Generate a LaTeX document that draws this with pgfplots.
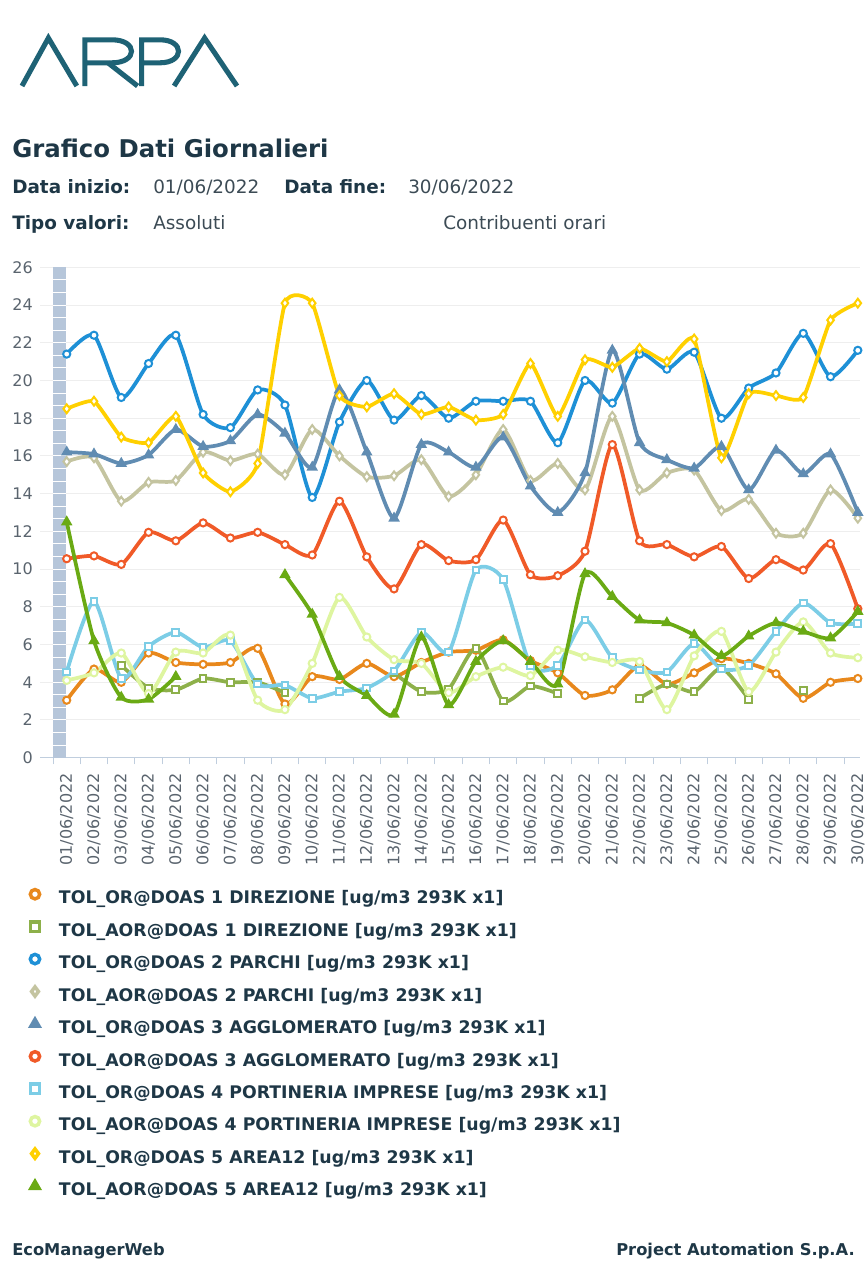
\documentclass[border=0pt]{standalone}
\usepackage{pgfplots}
\pgfplotsset{compat=1.18}
\usepackage{fontspec}
\setmainfont{DejaVu Sans}
\definecolor{c1}{RGB}{232,136,28}
\definecolor{c2}{RGB}{141,176,74}
\definecolor{c3}{RGB}{30,144,214}
\definecolor{c4}{RGB}{196,196,160}
\definecolor{c5}{RGB}{96,140,178}
\definecolor{c6}{RGB}{240,90,40}
\definecolor{c7}{RGB}{124,205,230}
\definecolor{c8}{RGB}{222,245,160}
\definecolor{c9}{RGB}{255,208,0}
\definecolor{c10}{RGB}{106,170,20}
\definecolor{titlecol}{RGB}{30,55,70}
\definecolor{valcol}{RGB}{60,75,85}
\definecolor{tickcol}{RGB}{90,100,110}
\definecolor{axiscol}{RGB}{192,206,222}
\definecolor{gridcol}{RGB}{238,238,238}
\definecolor{barcol}{RGB}{182,198,218}
\definecolor{logocol}{RGB}{30,98,117}
\pgfplotsset{
  base/.style 2 args={color=#1, line width=2.8pt, smooth, tension=0.4,
    mark options={solid, line width=1.5pt, draw=#1, fill=#2}},
}
\begin{document}
\begin{tikzpicture}
\useasboundingbox (0,0) rectangle (651pt,-945.75pt);
% logo
\begin{scope}[x=0.75pt, y=-0.75pt, line width=3.8pt, draw=logocol, line join=miter, line cap=butt]
\draw (22,86) -- (48.4,38) -- (76.8,86);
\draw (84.9,86) -- (84.9,39.8) -- (112,39.8) .. controls (138,39.8) and (138,62.8) .. (112,62.8) -- (86.7,62.8);
\draw (108,62.8) -- (137.6,86);
\draw (141.7,86) -- (141.7,39.8) -- (160,39.8) .. controls (184.7,39.8) and (184.7,62.8) .. (160,62.8) -- (143.5,62.8);
\draw (174.1,86) -- (204.6,38) -- (237,86);
\end{scope}
% header
\tikzset{hb/.style={anchor=base west, inner sep=0pt, font=\bfseries\fontsize{13.8}{16}\selectfont, text=titlecol},
         hr/.style={anchor=base west, inner sep=0pt, font=\fontsize{13.8}{16}\selectfont, text=valcol}}
\node[anchor=base west, inner sep=0pt, font=\bfseries\fontsize{18.3}{22}\selectfont, text=titlecol] at (9pt,-117.75pt) {Grafico Dati Giornalieri};
\node[hb] at (9pt,-144.75pt) {Data inizio:};
\node[hr] at (114.75pt,-144.75pt) {01/06/2022};
\node[hb] at (213pt,-144.75pt) {Data fine:};
\node[hr] at (306pt,-144.75pt) {30/06/2022};
\node[hb] at (9pt,-171.75pt) {Tipo valori:};
\node[hr] at (114.75pt,-171.75pt) {Assoluti};
\node[hr] at (332.25pt,-171.75pt) {Contribuenti orari};
% footer
\node[anchor=base west, inner sep=0pt, font=\bfseries\fontsize{12.2}{14}\selectfont, text=titlecol] at (9pt,-941.25pt) {EcoManagerWeb};
\node[anchor=base east, inner sep=0pt, font=\bfseries\fontsize{12.2}{14}\selectfont, text=titlecol] at (641.25pt,-941.25pt) {Project Automation S.p.A.};

\begin{axis}[
  at={(30pt,-568.28pt)}, anchor=south west,
  width=615pt, height=367.8pt, scale only axis,
  xmin=-0.979, xmax=29.08, ymin=0, ymax=26,
  axis x line*=bottom, axis y line*=left,
  x axis line style={draw=axiscol, line width=1.1pt, -},
  y axis line style={draw=none},
  ytick={0,2,...,26}, ymajorgrids, grid style={draw=gridcol, line width=0.75pt},
  xtick={0,...,29},
  xticklabels={01/06/2022,02/06/2022,03/06/2022,04/06/2022,05/06/2022,06/06/2022,07/06/2022,08/06/2022,09/06/2022,10/06/2022,11/06/2022,12/06/2022,13/06/2022,14/06/2022,15/06/2022,16/06/2022,17/06/2022,18/06/2022,19/06/2022,20/06/2022,21/06/2022,22/06/2022,23/06/2022,24/06/2022,25/06/2022,26/06/2022,27/06/2022,28/06/2022,29/06/2022,30/06/2022},
  major tick length=0pt, tick align=outside,
  extra x ticks={-0.5,0.5,...,28.5}, extra x tick labels={},
  extra x tick style={major tick length=5pt, tick style={draw=axiscol, line width=0.75pt}, grid=none},
  tick label style={font=\fontsize{12}{14}\selectfont, text=tickcol},
  /pgf/number format/assume math mode=true,
  xticklabel style={rotate=90, anchor=east, inner sep=0pt},
  yticklabel style={anchor=east, inner sep=0pt},
  xticklabel shift=11.5pt, yticklabel shift=5.25pt,
  unbounded coords=jump,
  legend cell align=left,
  legend style={at={(-0.0118,-0.2688)}, anchor=north west, draw=none, fill=none,
    inner sep=0pt, outer sep=0pt, row sep=10.92pt, column sep=14.5pt,
    nodes={inner sep=0pt, text height=9.6pt, text depth=2.6pt, text=titlecol,
      font=\bfseries\fontsize{13}{15}\selectfont}},
  legend image code/.code={\draw[#1, mark size=3.5pt, every mark/.append style={line width=2.6pt}] plot[only marks] coordinates {(0pt,3.8pt)};},
]
\fill[barcol] (axis cs:-0.491,0) rectangle (axis cs:-0.037,26);
\pgfplotsforeachungrouped \k in {1,...,38}{%
  \pgfmathsetmacro\yy{\k*26/39}%
  \edef\temp{\noexpand\draw[white, line width=0.75pt] (axis cs:-0.491,\yy) -- (axis cs:-0.037,\yy);}%
  \temp}

\addplot[base={c1}{white}, mark=*, mark size=2.7pt] coordinates {
(0,3.05) (1,4.7) (2,4.0) (3,5.55) (4,5.05) (5,4.95) (6,5.05) (7,5.8) (8,2.85) (9,4.3)
(10,4.15) (11,5.0) (12,4.3) (13,5.05) (14,5.6) (15,5.7) (16,6.25) (17,5.15) (18,4.5) (19,3.3)
(20,3.6) (21,4.9) (22,3.9) (23,4.5) (24,5.25) (25,5.0) (26,4.45) (27,3.15) (28,4.0) (29,4.2)};
\addlegendentry{TOL\_OR@DOAS 1 DIREZIONE [ug/m3 293K x1]}

\addplot[base={c2}{white}, mark=square*, mark size=2.5pt] coordinates {
(0,nan) (1,nan) (2,4.9) (3,3.7) (4,3.6) (5,4.2) (6,4.0) (7,4.0) (8,3.45) (9,nan)
(10,nan) (11,nan) (12,4.5) (13,3.5) (14,3.65) (15,5.8) (16,3.0) (17,3.8) (18,3.4) (19,nan)
(20,nan) (21,3.15) (22,3.9) (23,3.5) (24,4.75) (25,3.1) (26,nan) (27,3.55) (28,nan) (29,nan)};
\addlegendentry{TOL\_AOR@DOAS 1 DIREZIONE [ug/m3 293K x1]}

\addplot[base={c3}{white}, mark=*, mark size=2.7pt] coordinates {
(0,21.4) (1,22.4) (2,19.1) (3,20.9) (4,22.4) (5,18.2) (6,17.5) (7,19.5) (8,18.7) (9,13.8)
(10,17.8) (11,20.0) (12,17.9) (13,19.2) (14,18.0) (15,18.9) (16,18.9) (17,18.9) (18,16.7) (19,20.0)
(20,18.8) (21,21.4) (22,20.6) (23,21.5) (24,18.0) (25,19.6) (26,20.4) (27,22.5) (28,20.2) (29,21.6)};
\addlegendentry{TOL\_OR@DOAS 2 PARCHI [ug/m3 293K x1]}

\addplot[base={c4}{white}, mark=diamond*, mark size=3.3pt] coordinates {
(0,15.7) (1,15.9) (2,13.6) (3,14.6) (4,14.7) (5,16.2) (6,15.75) (7,16.1) (8,15.0) (9,17.4)
(10,16.0) (11,14.9) (12,14.95) (13,15.8) (14,13.85) (15,15.0) (16,17.4) (17,14.7) (18,15.6) (19,14.2)
(20,18.1) (21,14.2) (22,15.1) (23,15.25) (24,13.1) (25,13.7) (26,11.9) (27,11.9) (28,14.2) (29,12.7)};
\addlegendentry{TOL\_AOR@DOAS 2 PARCHI [ug/m3 293K x1]}

\addplot[base={c5}{c5}, mark=triangle*, mark size=3.5pt] coordinates {
(0,16.2) (1,16.1) (2,15.6) (3,16.05) (4,17.4) (5,16.5) (6,16.8) (7,18.2) (8,17.2) (9,15.4)
(10,19.5) (11,16.2) (12,12.7) (13,16.6) (14,16.2) (15,15.4) (16,17.0) (17,14.4) (18,13.0) (19,15.1)
(20,21.6) (21,16.7) (22,15.8) (23,15.35) (24,16.5) (25,14.2) (26,16.3) (27,15.05) (28,16.1) (29,13.0)};
\addlegendentry{TOL\_OR@DOAS 3 AGGLOMERATO [ug/m3 293K x1]}

\addplot[base={c6}{white}, mark=*, mark size=2.7pt] coordinates {
(0,10.55) (1,10.7) (2,10.25) (3,11.95) (4,11.5) (5,12.45) (6,11.65) (7,11.95) (8,11.3) (9,10.75)
(10,13.6) (11,10.65) (12,8.95) (13,11.3) (14,10.45) (15,10.5) (16,12.6) (17,9.7) (18,9.65) (19,10.95)
(20,16.6) (21,11.5) (22,11.3) (23,10.65) (24,11.2) (25,9.5) (26,10.5) (27,9.95) (28,11.35) (29,7.9)};
\addlegendentry{TOL\_AOR@DOAS 3 AGGLOMERATO [ug/m3 293K x1]}

\addplot[base={c7}{white}, mark=square*, mark size=2.5pt] coordinates {
(0,4.55) (1,8.3) (2,4.2) (3,5.9) (4,6.65) (5,5.85) (6,6.2) (7,3.9) (8,3.85) (9,3.15)
(10,3.5) (11,3.7) (12,4.6) (13,6.65) (14,5.6) (15,9.95) (16,9.45) (17,4.9) (18,4.9) (19,7.3)
(20,5.3) (21,4.65) (22,4.55) (23,6.05) (24,4.7) (25,4.9) (26,6.7) (27,8.2) (28,7.15) (29,7.1)};
\addlegendentry{TOL\_OR@DOAS 4 PORTINERIA IMPRESE [ug/m3 293K x1]}

\addplot[base={c8}{white}, mark=*, mark size=2.7pt] coordinates {
(0,4.1) (1,4.5) (2,5.55) (3,3.4) (4,5.6) (5,5.55) (6,6.5) (7,3.05) (8,2.55) (9,5.0)
(10,8.5) (11,6.4) (12,5.2) (13,5.0) (14,3.45) (15,4.3) (16,4.8) (17,4.35) (18,5.7) (19,5.35)
(20,5.05) (21,5.1) (22,2.55) (23,5.4) (24,6.7) (25,3.5) (26,5.6) (27,7.2) (28,5.55) (29,5.3)};
\addlegendentry{TOL\_AOR@DOAS 4 PORTINERIA IMPRESE [ug/m3 293K x1]}

\addplot[base={c9}{white}, tension=0.3, mark=diamond*, mark size=3.3pt] coordinates {
(0,18.5) (1,18.9) (2,17.0) (3,16.7) (4,18.1) (5,15.1) (6,14.1) (7,15.6) (8,24.1) (9,24.1)
(10,19.2) (11,18.6) (12,19.3) (13,18.2) (14,18.6) (15,17.9) (16,18.2) (17,20.9) (18,18.1) (19,21.1)
(20,20.7) (21,21.7) (22,21.0) (23,22.2) (24,15.9) (25,19.3) (26,19.2) (27,19.1) (28,23.2) (29,24.1)};
\addlegendentry{TOL\_OR@DOAS 5 AREA12 [ug/m3 293K x1]}

\addplot[base={c10}{c10}, mark=triangle*, mark size=3.5pt] coordinates {
(0,12.5) (1,6.2) (2,3.2) (3,3.1) (4,4.3) (5,nan) (6,nan) (7,nan) (8,9.7) (9,7.6)
(10,4.3) (11,3.3) (12,2.3) (13,6.4) (14,2.8) (15,5.1) (16,6.2) (17,5.1) (18,3.9) (19,9.75)
(20,8.55) (21,7.3) (22,7.15) (23,6.5) (24,5.4) (25,6.45) (26,7.15) (27,6.7) (28,6.35) (29,7.75)};
\addlegendentry{TOL\_AOR@DOAS 5 AREA12 [ug/m3 293K x1]}
\end{axis}
\end{tikzpicture}
\end{document}
